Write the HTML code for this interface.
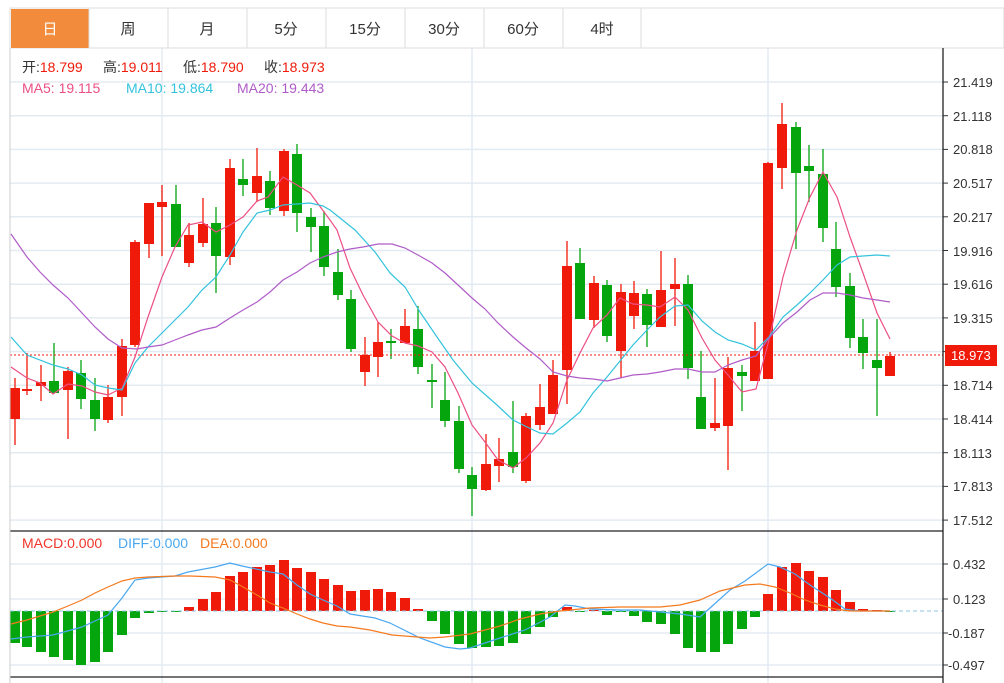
<!DOCTYPE html>
<html><head><meta charset="utf-8">
<style>
body{margin:0;background:#fff;width:1004px;height:683px;overflow:hidden;font-family:"Liberation Sans","Noto Sans CJK SC",sans-serif;}
svg{position:absolute;left:0;top:0}
text{font-family:"Liberation Sans","Noto Sans CJK SC",sans-serif;}
</style></head><body>
<svg id="s" width="1004" height="683" xmlns="http://www.w3.org/2000/svg">
<g id="grid"></g>
<rect x="10" y="8" width="994" height="40" fill="#fff" stroke="#ddd"/>
<rect x="11" y="9" width="78" height="39" fill="#f28c3c"/>
<g stroke="#ddd"><line x1="89" y1="8" x2="89" y2="48"/><line x1="168" y1="8" x2="168" y2="48"/><line x1="247" y1="8" x2="247" y2="48"/><line x1="326" y1="8" x2="326" y2="48"/><line x1="405" y1="8" x2="405" y2="48"/><line x1="484" y1="8" x2="484" y2="48"/><line x1="563" y1="8" x2="563" y2="48"/><line x1="641" y1="8" x2="641" y2="48"/></g>
<g font-size="15" text-anchor="middle" fill="#333">
<text x="50" y="34" fill="#fff">日</text><text x="128" y="34">周</text><text x="207" y="34">月</text><text x="286" y="34">5分</text><text x="365" y="34">15分</text><text x="444" y="34">30分</text><text x="523" y="34">60分</text><text x="602" y="34">4时</text>
</g>
<g id="plot"></g>
<g stroke="#222" stroke-width="1.3"><line x1="943" y1="48" x2="943" y2="683"/><line x1="10" y1="531" x2="943" y2="531"/><line x1="10" y1="677" x2="943" y2="677"/></g>
<line x1="10" y1="48" x2="10" y2="683" stroke="#ccc"/>
<g font-size="13" fill="#333">
<text x="953" y="87">21.419</text><text x="953" y="121">21.118</text><text x="953" y="154">20.818</text><text x="953" y="188">20.517</text><text x="953" y="222">20.217</text><text x="953" y="256">19.916</text><text x="953" y="289">19.616</text><text x="953" y="323">19.315</text><text x="953" y="390">18.714</text><text x="953" y="424">18.414</text><text x="953" y="458">18.113</text><text x="953" y="491">17.813</text><text x="953" y="525">17.512</text>
<text x="953" y="569">0.432</text><text x="953" y="604">0.123</text><text x="948" y="638">-0.187</text><text x="948" y="670">-0.497</text>
</g>
<rect x="945" y="345" width="52" height="21" fill="#f01a0a"/>
<text x="951" y="360" font-size="13" fill="#fff">18.973</text>
<g font-size="14">
<text x="22" y="72" fill="#333">开:<tspan fill="#f01a0a">18.799</tspan></text>
<text x="103" y="72" fill="#333">高:<tspan fill="#f01a0a">19.011</tspan></text>
<text x="183" y="72" fill="#333">低:<tspan fill="#f01a0a">18.790</tspan></text>
<text x="264" y="72" fill="#333">收:<tspan fill="#f01a0a">18.973</tspan></text>
<text x="22" y="93" fill="#ec4f83">MA5: 19.115</text>
<text x="126" y="93" fill="#33c3dc">MA10: 19.864</text>
<text x="237" y="93" fill="#b05cc8">MA20: 19.443</text>
<text x="22" y="548" fill="#f0352a">MACD:0.000</text>
<text x="118" y="548" fill="#4aa8f0">DIFF:0.000</text>
<text x="200" y="548" fill="#f57a1e">DEA:0.000</text>
</g>
</svg>
<script>
var NS="http://www.w3.org/2000/svg";
function el(p,t,a){var e=document.createElementNS(NS,t);for(var k in a)e.setAttribute(k,a[k]);document.getElementById(p).appendChild(e);return e;}
var hy=[];for(var i=0;i<14;i++)hy.push(82+i*33.7);hy=hy.concat([564,599,633,665]);
hy.forEach(function(y){el("grid","line",{x1:10,x2:943,y1:y,y2:y,stroke:"#e3ebf2","stroke-width":1.5});el("grid","line",{x1:943,x2:948,y1:y,y2:y,stroke:"#333"});});
[162,472,768].forEach(function(x){el("grid","line",{x1:x,x2:x,y1:48,y2:683,stroke:"#e3ebf2","stroke-width":1.5});});
var C=[[15,388,419,378,445,1],[27,389,391,353,395,1],[41,382,386,365,401,1],[54,381,393,343,393,0],[68,371,390,367,439,1],[81,373,399,360,409,0],[95,400,419,378,431,0],[108,397,420,385,423,1],[122,346,397,339,416,1],[135,242,345,240,347,1],[149,203,244,203,258,1],[162,202,207,185,256,1],[176,204,247,185,247,0],[189,235,263,223,267,1],[203,224,243,198,247,1],[216,223,256,207,293,0],[230,168,257,159,265,1],[243,179,185,159,196,0],[257,176,193,148,202,1],[270,181,208,171,215,0],[284,151,211,149,216,1],[297,154,213,144,232,0],[311,217,227,208,252,0],[324,226,267,211,276,0],[338,272,295,249,300,0],[351,299,349,290,352,0],[365,355,372,337,386,1],[378,342,357,322,377,1],[391,341,343,329,359,0],[405,326,343,309,343,1],[418,329,367,306,374,0],[432,380,382,364,408,0],[445,400,421,372,427,0],[459,421,469,406,473,0],[472,475,489,467,516,0],[486,464,490,434,491,1],[499,459,466,438,482,1],[513,452,467,401,473,0],[526,416,481,413,483,1],[540,407,425,384,430,1],[553,375,414,360,414,1],[567,266,370,241,404,1],[580,263,319,248,319,0],[594,283,320,276,328,1],[607,285,336,280,342,0],[621,292,351,284,378,1],[634,293,316,281,329,1],[647,294,325,289,347,0],[661,290,327,251,327,1],[675,284,289,258,326,1],[688,284,368,275,379,0],[701,397,429,351,429,0],[715,423,428,378,431,1],[728,368,426,357,470,1],[742,372,376,365,411,0],[755,351,381,322,381,1],[768,163,379,162,379,1],[782,124,168,103,189,1],[796,127,173,122,249,0],[809,166,171,145,202,0],[823,174,228,149,242,0],[836,249,287,222,297,0],[850,286,338,273,348,0],[863,337,353,319,369,0],[877,360,368,319,416,0],[890,356,376,352,376,1]];
C.forEach(function(c){var col=c[5]?"#f01a0a":"#05a50e";el("plot","line",{x1:c[0],x2:c[0],y1:c[3],y2:c[4],stroke:col,"stroke-width":1.3});el("plot","rect",{x:c[0]-5,y:c[1],width:10,height:Math.max(2,c[2]-c[1]),fill:col});});
el("plot","line",{x1:10,x2:943,y1:355,y2:355,stroke:"#f01a0a","stroke-dasharray":"2,2"});
function pl(pts,col){el("plot","polyline",{points:pts,fill:"none",stroke:col,"stroke-width":1.2});}
pl("11,367 27,378 40,383 53,394 68,384 82,386 95,392 108,395 122,388 135,357 148,317 162,277 175,247 188,225 202,222 216,232 230,225 243,217 257,201 268,197 283,177 297,185 310,193 330,220 337,230 350,268 363,295 378,322 392,336 405,343 418,346 432,352 445,367 458,393 472,425 485,442 498,460 513,468 526,458 540,443 553,423 567,380 580,353 593,328 607,315 620,298 633,304 647,305 660,307 675,297 688,310 702,338 715,360 728,375 742,392 756,389 769,340 783,277 797,230 810,197 823,172 837,197 850,237 863,273 877,313 890,339","#ec4f83");
pl("11,337 27,355 53,365 68,369 82,375 95,385 108,388 122,390 135,363 148,347 162,333 175,320 188,307 202,290 216,277 230,255 243,232 257,213 270,210 283,205 297,204 310,203 323,206 330,210 355,230 375,252 390,273 405,287 420,312 437,337 453,360 472,383 497,405 513,420 527,427 540,433 553,434 567,423 580,412 593,393 607,377 620,361 633,345 647,330 660,317 675,306 688,305 702,321 715,332 728,340 742,344 756,350 769,337 783,317 797,305 810,293 823,280 837,265 850,257 863,256 877,255 890,256","#33c3dc");
pl("11,234 27,257 40,272 53,285 68,298 82,313 95,327 108,339 122,348 137,349 148,347 162,345 175,340 188,335 202,330 216,327 230,318 243,310 257,302 270,292 283,280 297,272 310,263 323,257 337,252 350,249 363,247 378,244 392,244 405,248 418,255 432,263 445,273 458,285 472,298 485,309 498,323 513,337 526,348 540,359 553,372 567,376 580,378 593,379 607,381 620,378 633,375 647,374 660,372 675,369 688,369 702,372 715,372 728,365 742,360 756,356 769,338 783,323 797,312 810,300 823,293 837,293 850,295 863,298 877,300 890,302","#b05cc8");
var Z=611;
var M=[643,647,652,657,660,665,662,652,635,618,613,612,612,607,599,592,576,572,567,565,560,568,572,579,585,591,590,589,592,598,609,621,634,644,648,647,646,643,634,627,617,607,612,610,615,612,616,622,624,634,648,652,652,644,629,617,594,567,563,571,577,590,602,609,610,611];
M.forEach(function(v,i){var x=C[i][0];var col=v<Z?"#f01a0a":"#05a50e";var y=Math.min(v,Z),h=Math.max(1,Math.abs(v-Z));el("plot","rect",{x:x-5,y:y,width:10,height:h,fill:col});});
el("plot","line",{x1:10,x2:943,y1:Z,y2:Z,stroke:"#8cc6e0","stroke-dasharray":"4,3"});
pl("11,639 27,637 53,635 82,627 95,621 108,615 122,598 135,580 148,578 175,576 188,572 215,567 230,563 242,566 270,572 283,574 297,585 310,594 323,600 337,606 350,614 375,618 390,623 420,638 445,647 460,649 470,648 500,638 525,630 550,617 565,605 575,606 590,609 620,610 640,610 660,612 680,614 700,617 710,608 730,590 745,581 768,564 780,567 795,574 810,585 830,598 845,609 860,611 890,611","#4aa8f0");
pl("11,624 27,620 53,612 68,606 82,600 95,593 108,587 122,581 135,578 148,577 175,576 190,576 215,577 230,580 243,587 257,595 270,603 283,608 297,614 310,619 323,623 337,626 350,627 370,630 392,635 430,638 445,637 470,634 500,626 520,619 540,614 560,611 590,608 620,607 660,607 680,605 700,600 720,591 745,585 760,584 775,587 790,593 805,600 820,605 835,609 850,611 890,611","#f57a1e");
</script>
</body></html>
